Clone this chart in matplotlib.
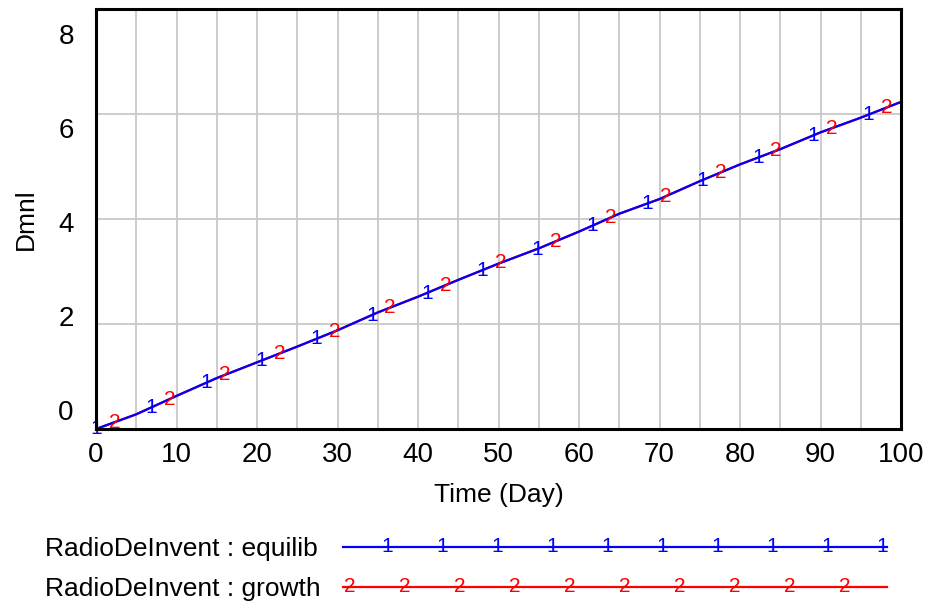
import numpy as np
import matplotlib
matplotlib.use("Agg")
import matplotlib.pyplot as plt
from matplotlib.transforms import ScaledTranslation

plt.rcParams["font.family"] = ["Liberation Sans", "DejaVu Sans"]

# donnees (les deux scenarios se superposent)
time = [0, 5, 10, 15, 20, 25, 30, 35, 40, 45, 50, 55, 60, 65, 70, 75, 80, 85, 90, 95, 100]
equilib = [0, 0.28, 0.63, 0.97, 1.27, 1.57, 1.88, 2.22, 2.52, 2.84, 3.15,
           3.44, 3.76, 4.10, 4.38, 4.72, 5.04, 5.33, 5.65, 5.93, 6.23]
growth = [0, 0.28, 0.63, 0.97, 1.27, 1.57, 1.88, 2.22, 2.52, 2.84, 3.15,
          3.44, 3.76, 4.10, 4.38, 4.72, 5.04, 5.33, 5.65, 5.93, 6.23]

# positions des numeros de courbe (style Vensim)
marks_1 = [0, 6.85, 13.7, 20.55, 27.4, 34.25, 41.1, 47.95, 54.8, 61.65, 68.5, 75.35, 82.2, 89.05, 95.9]
marks_2 = [2.3, 9.15, 16.0, 22.85, 29.7, 36.55, 43.4, 50.25, 57.1, 63.95, 70.8, 77.65, 84.5, 91.35, 98.2]

series_names = ["RadioDeInvent : equilib", "RadioDeInvent : growth"]
yticks = [0, 2, 4, 6, 8]
xticks = [0, 10, 20, 30, 40, 50, 60, 70, 80, 90, 100]

BLUE = "#0000ff"
RED = "#ff0000"

fig = plt.figure(figsize=(9.38, 6.05), dpi=100)
ax = fig.add_axes([96 / 938, 1 - 429 / 605, 805 / 938, 420 / 605])

ax.plot(time, growth, color=RED, lw=1.6, zorder=3)
ax.plot(time, equilib, color=BLUE, lw=1.6, zorder=4)

for x in marks_1:
    ax.text(x, np.interp(x, time, equilib), "1", color=BLUE, fontsize=15,
            ha="center", va="center", zorder=5)
for x in marks_2:
    ax.text(x, np.interp(x, time, growth), "2", color=RED, fontsize=15,
            ha="center", va="center", zorder=5)

ax.set_xlim(0, 100)
ax.set_ylim(0, 8)
ax.set_xticks(xticks)
ax.set_xticks(np.arange(5, 100, 5), minor=True)
ax.set_yticks(yticks)
ax.set_yticklabels([str(v) for v in yticks])
ax.tick_params(axis="both", which="both", length=0, labelsize=20)
ax.tick_params(axis="y", pad=16)
ax.tick_params(axis="x", pad=9)

ax.grid(True, which="both", axis="x", color="#c8c8c8", lw=1.3)
ax.grid(True, which="major", axis="y", color="#c8c8c8", lw=1.3)
ax.set_axisbelow(True)

for s in ax.spines.values():
    s.set_linewidth(2.2)
    s.set_color("black")
    s.set_zorder(6)

# Vensim resserre les etiquettes de l'axe y vers l'interieur
shift_px = [-19, -8, 3, 14, 25]
for lab, d in zip(ax.get_yticklabels(), shift_px):
    lab.set_transform(lab.get_transform() + ScaledTranslation(0, -d / 100, fig.dpi_scale_trans))

ax.set_xlabel("Time (Day)", fontsize=19)
ax.set_ylabel("Dmnl", fontsize=19)
ax.xaxis.set_label_coords(0.5, -0.128)
ax.yaxis.set_label_coords(-0.072, 0.5)

# legende en bas, comme dans Vensim
leg = fig.add_axes([0, 0, 1, 1], zorder=-1)
leg.set_xlim(0, 938)
leg.set_ylim(605, 0)
leg.axis("off")
rows = [(547, BLUE, "1", 387), (587, RED, "2", 350)]
for name, (yy, col, num, x0) in zip(series_names, rows):
    leg.text(45, yy + 2, name, fontsize=19, ha="left", va="center")
    leg.plot([343, 887], [yy, yy], color=col, lw=1.6)
    for k in range(10):
        leg.text(x0 + 55 * k, yy, num, color=col, fontsize=15, ha="center", va="center")

fig.savefig("out.png", dpi=100)
